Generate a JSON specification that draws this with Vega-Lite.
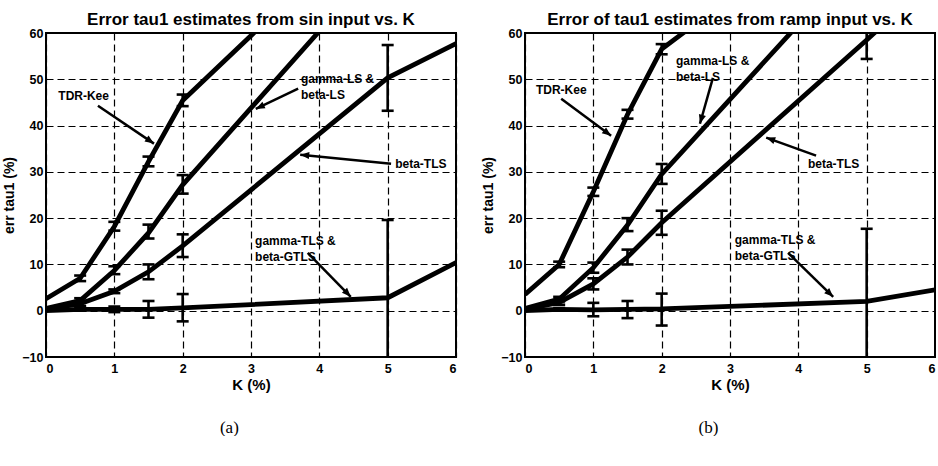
{
  "$schema": "https://vega.github.io/schema/vega-lite/v6.json",
  "background": "white",
  "padding": {"left": 1, "top": 10, "right": 0, "bottom": 0},
  "spacing": 23,
  "config": {
    "font": "Liberation Sans",
    "view": {"stroke": "black", "strokeWidth": 2},
    "axis": {
      "domain": false,
      "ticks": false,
      "grid": true,
      "gridColor": "black",
      "gridOpacity": 1,
      "gridWidth": 1.2,
      "gridDash": [7, 4],
      "labelFont": "Liberation Sans",
      "labelFontWeight": "bold",
      "labelFontSize": 12.5,
      "labelColor": "black",
      "titleFont": "Liberation Sans",
      "titleFontWeight": "bold",
      "titleColor": "black",
      "format": "d"
    },
    "axisX": {"labelPadding": 5, "titleFontSize": 15, "titlePadding": 3},
    "axisY": {"labelPadding": 3, "titleFontSize": 14, "titlePadding": 5},
    "title": {"font": "Liberation Sans", "fontWeight": "bold", "fontSize": 17, "color": "black", "offset": -2, "anchor": "middle"},
    "text": {"font": "Liberation Sans", "fontWeight": "bold", "fontSize": 12, "color": "black"}
  },
  "datasets": {
    "sin": [
      {"method": "TDR-Kee", "K": 0, "err": 2.6},
      {"method": "TDR-Kee", "K": 0.5, "err": 7.0, "lo": 6.4, "hi": 7.6},
      {"method": "TDR-Kee", "K": 1, "err": 18.2, "lo": 17.3, "hi": 19.2},
      {"method": "TDR-Kee", "K": 1.5, "err": 32.2, "lo": 31.2, "hi": 33.3},
      {"method": "TDR-Kee", "K": 2, "err": 45.4, "lo": 44.2, "hi": 46.7},
      {"method": "TDR-Kee", "K": 5, "err": 87.5},
      {"method": "gamma-LS & beta-LS", "K": 0, "err": 0.5},
      {"method": "gamma-LS & beta-LS", "K": 0.5, "err": 2.2, "lo": 1.7, "hi": 2.7},
      {"method": "gamma-LS & beta-LS", "K": 1, "err": 8.7, "lo": 7.9, "hi": 9.6},
      {"method": "gamma-LS & beta-LS", "K": 1.5, "err": 16.8, "lo": 15.6, "hi": 18.6},
      {"method": "gamma-LS & beta-LS", "K": 2, "err": 27.2, "lo": 25.3, "hi": 29.3},
      {"method": "gamma-LS & beta-LS", "K": 5, "err": 77},
      {"method": "beta-TLS", "K": 0, "err": 0.3},
      {"method": "beta-TLS", "K": 0.5, "err": 1.5, "lo": 1.0, "hi": 2.0},
      {"method": "beta-TLS", "K": 1, "err": 4.2, "lo": 3.8, "hi": 4.6},
      {"method": "beta-TLS", "K": 1.5, "err": 8.4, "lo": 6.8, "hi": 10.0},
      {"method": "beta-TLS", "K": 2, "err": 14.0, "lo": 11.6, "hi": 16.5},
      {"method": "beta-TLS", "K": 5, "err": 50.3, "lo": 43.2, "hi": 57.4},
      {"method": "beta-TLS", "K": 6, "err": 57.7},
      {"method": "gamma-TLS & beta-GTLS", "K": 0, "err": 0},
      {"method": "gamma-TLS & beta-GTLS", "K": 0.5, "err": 0.3, "lo": 0.0, "hi": 0.6},
      {"method": "gamma-TLS & beta-GTLS", "K": 1, "err": 0.3, "lo": -0.3, "hi": 0.9},
      {"method": "gamma-TLS & beta-GTLS", "K": 1.5, "err": 0.3, "lo": -1.5, "hi": 2.1},
      {"method": "gamma-TLS & beta-GTLS", "K": 2, "err": 0.6, "lo": -2.3, "hi": 3.6},
      {"method": "gamma-TLS & beta-GTLS", "K": 5, "err": 2.8, "lo": -14, "hi": 19.6},
      {"method": "gamma-TLS & beta-GTLS", "K": 6, "err": 10.4}
    ],
    "ramp": [
      {"method": "TDR-Kee", "K": 0, "err": 3.5},
      {"method": "TDR-Kee", "K": 0.5, "err": 10.0, "lo": 9.4, "hi": 10.6},
      {"method": "TDR-Kee", "K": 1, "err": 25.7, "lo": 24.8, "hi": 26.6},
      {"method": "TDR-Kee", "K": 1.5, "err": 42.4, "lo": 41.5, "hi": 43.4},
      {"method": "TDR-Kee", "K": 2, "err": 56.5, "lo": 55.4, "hi": 57.6},
      {"method": "TDR-Kee", "K": 5, "err": 90},
      {"method": "gamma-LS & beta-LS", "K": 0, "err": 0.5},
      {"method": "gamma-LS & beta-LS", "K": 0.5, "err": 2.5, "lo": 2.0, "hi": 3.0},
      {"method": "gamma-LS & beta-LS", "K": 1, "err": 9.3, "lo": 8.2, "hi": 10.4},
      {"method": "gamma-LS & beta-LS", "K": 1.5, "err": 18.5, "lo": 17.2, "hi": 20.0},
      {"method": "gamma-LS & beta-LS", "K": 2, "err": 29.5, "lo": 27.4, "hi": 31.7},
      {"method": "gamma-LS & beta-LS", "K": 5, "err": 78},
      {"method": "beta-TLS", "K": 0, "err": 0.3},
      {"method": "beta-TLS", "K": 0.5, "err": 1.8, "lo": 1.3, "hi": 2.3},
      {"method": "beta-TLS", "K": 1, "err": 5.8, "lo": 4.6, "hi": 7.0},
      {"method": "beta-TLS", "K": 1.5, "err": 11.6, "lo": 10.0, "hi": 13.2},
      {"method": "beta-TLS", "K": 2, "err": 19.0, "lo": 16.4, "hi": 21.6},
      {"method": "beta-TLS", "K": 5, "err": 58.5, "lo": 54.4, "hi": 63},
      {"method": "beta-TLS", "K": 6, "err": 72},
      {"method": "gamma-TLS & beta-GTLS", "K": 0, "err": 0},
      {"method": "gamma-TLS & beta-GTLS", "K": 0.5, "err": 0.3, "lo": 0.0, "hi": 0.6},
      {"method": "gamma-TLS & beta-GTLS", "K": 1, "err": 0.2, "lo": -1.2, "hi": 1.7},
      {"method": "gamma-TLS & beta-GTLS", "K": 1.5, "err": 0.3, "lo": -1.6, "hi": 2.1},
      {"method": "gamma-TLS & beta-GTLS", "K": 2, "err": 0.4, "lo": -3.2, "hi": 3.7},
      {"method": "gamma-TLS & beta-GTLS", "K": 5, "err": 2.0, "lo": -14, "hi": 17.7},
      {"method": "gamma-TLS & beta-GTLS", "K": 6, "err": 4.5}
    ],
    "sinArrows": [
      {"note": "TDR-Kee", "K": 0.76, "err": 44.3, "K2": 1.58, "err2": 36.1},
      {"note": "gamma-LS", "K": 3.69, "err": 48.0, "K2": 3.07, "err2": 43.6},
      {"note": "beta-TLS", "K": 5.05, "err": 31.75, "K2": 3.72, "err2": 33.7},
      {"note": "gamma-TLS", "K": 3.83, "err": 12.5, "K2": 4.46, "err2": 3.0}
    ],
    "rampArrows": [
      {"note": "TDR-Kee", "K": 0.53, "err": 45.8, "K2": 1.26, "err2": 37.8},
      {"note": "gamma-LS", "K": 2.75, "err": 50.3, "K2": 2.56, "err2": 40.4},
      {"note": "beta-TLS", "K": 4.26, "err": 33.5, "K2": 3.53, "err2": 37.4},
      {"note": "gamma-TLS", "K": 3.85, "err": 12.5, "K2": 4.51, "err2": 3.0}
    ],
    "sinNotes": [
      {"K": 0.18, "err": 46.4, "text": "TDR-Kee"},
      {"K": 3.73, "err": 50.0, "text": "gamma-LS &\nbeta-LS"},
      {"K": 5.11, "err": 31.75, "text": "beta-TLS"},
      {"K": 3.06, "err": 15.0, "text": "gamma-TLS &\nbeta-GTLS"}
    ],
    "rampNotes": [
      {"K": 0.16, "err": 47.7, "text": "TDR-Kee"},
      {"K": 2.21, "err": 53.9, "text": "gamma-LS &\nbeta-LS"},
      {"K": 4.14, "err": 31.75, "text": "beta-TLS"},
      {"K": 3.07, "err": 15.2, "text": "gamma-TLS &\nbeta-GTLS"}
    ]
  },
  "hconcat": [
    {
      "title": {"text": "(a)", "orient": "bottom", "font": "Liberation Serif", "fontWeight": "normal", "fontSize": 17, "offset": 26},
      "vconcat": [
        {
          "title": "Error tau1 estimates from sin input vs. K",
          "width": 410,
          "height": 324,
          "layer": [
            {
              "data": {"name": "sin"},
              "mark": {"type": "line", "color": "black", "strokeWidth": 4.8, "clip": true},
              "encoding": {
                "x": {"field": "K", "type": "quantitative", "scale": {"domain": [0, 6], "nice": false}, "axis": {"values": [0, 1, 2, 3, 4, 5, 6], "title": "K (%)"}},
                "y": {"field": "err", "type": "quantitative", "scale": {"domain": [-10, 60], "nice": false}, "axis": {"values": [-10, 0, 10, 20, 30, 40, 50, 60], "title": "err tau1 (%)"}},
                "detail": {"field": "method"}
              }
            },
            {
              "data": {"name": "sin"},
              "transform": [{"filter": "datum.lo != null"}],
              "mark": {"type": "rule", "color": "black", "strokeWidth": 2.6, "clip": true},
              "encoding": {
                "x": {"field": "K", "type": "quantitative"},
                "y": {"field": "lo", "type": "quantitative"},
                "y2": {"field": "hi"}
              }
            },
            {
              "data": {"name": "sin"},
              "transform": [{"filter": "datum.lo != null"}],
              "mark": {"type": "tick", "orient": "horizontal", "color": "black", "size": 12, "thickness": 2.6, "opacity": 1, "clip": true},
              "encoding": {
                "x": {"field": "K", "type": "quantitative"},
                "y": {"field": "lo", "type": "quantitative"}
              }
            },
            {
              "data": {"name": "sin"},
              "transform": [{"filter": "datum.hi != null"}],
              "mark": {"type": "tick", "orient": "horizontal", "color": "black", "size": 12, "thickness": 2.6, "opacity": 1, "clip": true},
              "encoding": {
                "x": {"field": "K", "type": "quantitative"},
                "y": {"field": "hi", "type": "quantitative"}
              }
            },
            {
              "data": {"name": "sinArrows"},
              "mark": {"type": "rule", "color": "black", "strokeWidth": 2.5},
              "encoding": {
                "x": {"field": "K", "type": "quantitative"},
                "y": {"field": "err", "type": "quantitative"},
                "x2": {"field": "K2"},
                "y2": {"field": "err2"}
              }
            },
            {
              "data": {"name": "sinArrows"},
              "transform": [{"filter": "datum.note == 'TDR-Kee'"}],
              "mark": {"type": "point", "shape": "M0,0L0.4,1L-0.4,1Z", "filled": true, "color": "black", "opacity": 1, "size": 324, "angle": 124},
              "encoding": {"x": {"field": "K2", "type": "quantitative"}, "y": {"field": "err2", "type": "quantitative"}}
            },
            {
              "data": {"name": "sinArrows"},
              "transform": [{"filter": "datum.note == 'gamma-LS'"}],
              "mark": {"type": "point", "shape": "M0,0L0.4,1L-0.4,1Z", "filled": true, "color": "black", "opacity": 1, "size": 324, "angle": 245},
              "encoding": {"x": {"field": "K2", "type": "quantitative"}, "y": {"field": "err2", "type": "quantitative"}}
            },
            {
              "data": {"name": "sinArrows"},
              "transform": [{"filter": "datum.note == 'beta-TLS'"}],
              "mark": {"type": "point", "shape": "M0,0L0.4,1L-0.4,1Z", "filled": true, "color": "black", "opacity": 1, "size": 324, "angle": 275},
              "encoding": {"x": {"field": "K2", "type": "quantitative"}, "y": {"field": "err2", "type": "quantitative"}}
            },
            {
              "data": {"name": "sinArrows"},
              "transform": [{"filter": "datum.note == 'gamma-TLS'"}],
              "mark": {"type": "point", "shape": "M0,0L0.4,1L-0.4,1Z", "filled": true, "color": "black", "opacity": 1, "size": 324, "angle": 136},
              "encoding": {"x": {"field": "K2", "type": "quantitative"}, "y": {"field": "err2", "type": "quantitative"}}
            },
            {
              "data": {"name": "sinNotes"},
              "mark": {"type": "text", "align": "left", "baseline": "middle", "lineBreak": "\n", "lineHeight": 15.5},
              "encoding": {
                "x": {"field": "K", "type": "quantitative"},
                "y": {"field": "err", "type": "quantitative"},
                "text": {"field": "text"}
              }
            }
          ]
        }
      ]
    },
    {
      "title": {"text": "(b)", "orient": "bottom", "font": "Liberation Serif", "fontWeight": "normal", "fontSize": 17, "offset": 26},
      "vconcat": [
        {
          "title": "Error of tau1 estimates from ramp input vs. K",
          "width": 410,
          "height": 324,
          "layer": [
            {
              "data": {"name": "ramp"},
              "mark": {"type": "line", "color": "black", "strokeWidth": 4.8, "clip": true},
              "encoding": {
                "x": {"field": "K", "type": "quantitative", "scale": {"domain": [0, 6], "nice": false}, "axis": {"values": [0, 1, 2, 3, 4, 5, 6], "title": "K (%)"}},
                "y": {"field": "err", "type": "quantitative", "scale": {"domain": [-10, 60], "nice": false}, "axis": {"values": [-10, 0, 10, 20, 30, 40, 50, 60], "title": "err tau1 (%)"}},
                "detail": {"field": "method"}
              }
            },
            {
              "data": {"name": "ramp"},
              "transform": [{"filter": "datum.lo != null"}],
              "mark": {"type": "rule", "color": "black", "strokeWidth": 2.6, "clip": true},
              "encoding": {
                "x": {"field": "K", "type": "quantitative"},
                "y": {"field": "lo", "type": "quantitative"},
                "y2": {"field": "hi"}
              }
            },
            {
              "data": {"name": "ramp"},
              "transform": [{"filter": "datum.lo != null"}],
              "mark": {"type": "tick", "orient": "horizontal", "color": "black", "size": 12, "thickness": 2.6, "opacity": 1, "clip": true},
              "encoding": {
                "x": {"field": "K", "type": "quantitative"},
                "y": {"field": "lo", "type": "quantitative"}
              }
            },
            {
              "data": {"name": "ramp"},
              "transform": [{"filter": "datum.hi != null"}],
              "mark": {"type": "tick", "orient": "horizontal", "color": "black", "size": 12, "thickness": 2.6, "opacity": 1, "clip": true},
              "encoding": {
                "x": {"field": "K", "type": "quantitative"},
                "y": {"field": "hi", "type": "quantitative"}
              }
            },
            {
              "data": {"name": "rampArrows"},
              "mark": {"type": "rule", "color": "black", "strokeWidth": 2.5},
              "encoding": {
                "x": {"field": "K", "type": "quantitative"},
                "y": {"field": "err", "type": "quantitative"},
                "x2": {"field": "K2"},
                "y2": {"field": "err2"}
              }
            },
            {
              "data": {"name": "rampArrows"},
              "transform": [{"filter": "datum.note == 'TDR-Kee'"}],
              "mark": {"type": "point", "shape": "M0,0L0.4,1L-0.4,1Z", "filled": true, "color": "black", "opacity": 1, "size": 324, "angle": 127},
              "encoding": {"x": {"field": "K2", "type": "quantitative"}, "y": {"field": "err2", "type": "quantitative"}}
            },
            {
              "data": {"name": "rampArrows"},
              "transform": [{"filter": "datum.note == 'gamma-LS'"}],
              "mark": {"type": "point", "shape": "M0,0L0.4,1L-0.4,1Z", "filled": true, "color": "black", "opacity": 1, "size": 324, "angle": 196},
              "encoding": {"x": {"field": "K2", "type": "quantitative"}, "y": {"field": "err2", "type": "quantitative"}}
            },
            {
              "data": {"name": "rampArrows"},
              "transform": [{"filter": "datum.note == 'beta-TLS'"}],
              "mark": {"type": "point", "shape": "M0,0L0.4,1L-0.4,1Z", "filled": true, "color": "black", "opacity": 1, "size": 324, "angle": 290},
              "encoding": {"x": {"field": "K2", "type": "quantitative"}, "y": {"field": "err2", "type": "quantitative"}}
            },
            {
              "data": {"name": "rampArrows"},
              "transform": [{"filter": "datum.note == 'gamma-TLS'"}],
              "mark": {"type": "point", "shape": "M0,0L0.4,1L-0.4,1Z", "filled": true, "color": "black", "opacity": 1, "size": 324, "angle": 134},
              "encoding": {"x": {"field": "K2", "type": "quantitative"}, "y": {"field": "err2", "type": "quantitative"}}
            },
            {
              "data": {"name": "rampNotes"},
              "mark": {"type": "text", "align": "left", "baseline": "middle", "lineBreak": "\n", "lineHeight": 15.5},
              "encoding": {
                "x": {"field": "K", "type": "quantitative"},
                "y": {"field": "err", "type": "quantitative"},
                "text": {"field": "text"}
              }
            }
          ]
        }
      ]
    }
  ]
}
